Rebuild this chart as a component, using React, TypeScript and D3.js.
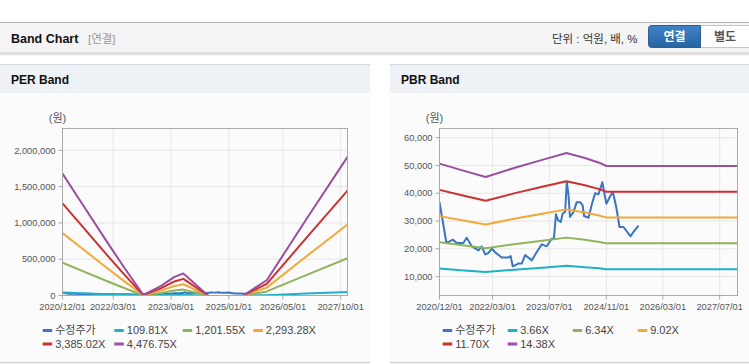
import * as d3 from "d3";

// 수정주가 (shared by both charts)
const PRICE_DATES = [
  "2020-12-01", "2021-01-28", "2021-02-15", "2021-03-24", "2021-04-28", "2021-06-24", "2021-07-22",
  "2021-09-04", "2021-11-01", "2021-11-28", "2021-12-28", "2022-01-25", "2022-02-24", "2022-03-21",
  "2022-05-18", "2022-07-13", "2022-08-03", "2022-08-21", "2022-10-09", "2022-11-06", "2022-12-06",
  "2023-02-01", "2023-03-15", "2023-04-27", "2023-06-09", "2023-07-21", "2023-08-09", "2023-08-27",
  "2023-09-15", "2023-10-07", "2023-10-24", "2023-11-13", "2023-11-28", "2023-12-12", "2023-12-25",
  "2024-01-24", "2024-02-21", "2024-03-21", "2024-04-12", "2024-04-24", "2024-06-01", "2024-07-01",
  "2024-07-28", "2024-08-25", "2024-09-15", "2024-09-28", "2024-10-13", "2024-11-01", "2024-12-04",
  "2024-12-27", "2025-01-25", "2025-02-22", "2025-03-28", "2025-05-28", "2025-06-21", "2025-08-04",
];
const PRICE = [
  36800, 22450, 22450, 23300, 22100, 22100, 24000,
  20900, 19450, 20900, 18000, 18500, 20050, 18850,
  16850, 16850, 17400, 13700, 14700, 14700, 17750,
  15850, 18850, 21600, 20900, 23650, 23650, 32400,
  30250, 29700, 32750, 33250, 44000, 39600, 31450,
  33200, 36800, 36800, 35650, 31800, 31200, 36250,
  40050, 39600, 42250, 44000, 40450, 36250, 38900,
  40450, 35050, 27850, 27850, 24500, 26050, 28350,
];

// PER band
const PER_DATES = [
  "2020-12-01", "2021-06-01", "2022-01-01", "2022-06-01", "2022-11-25", "2023-05-01", "2023-09-01",
  "2023-11-20", "2024-06-28", "2025-01-01", "2025-05-10", "2025-12-07", "2026-12-01", "2027-12-01",
];
const PER_LABELS = ["109.81X", "1,201.55X", "2,293.28X", "3,385.02X", "4,476.75X"];
const PER_1 = [41000, 31000, 18000, 10000, 0, 3000, 6000, 7000, 0, null, 0, 5000, 26000, 47000];
const PER_2 = [451000, 335000, 200000, 107000, 2000, 35000, 69000, 81000, 0, null, 0, 56000, 285000, 513000];
const PER_3 = [860000, 640000, 382000, 205000, 4000, 67000, 131000, 155000, 0, null, 0, 108000, 543000, 978000];
const PER_4 = [1269000, 945000, 563000, 302000, 6000, 98000, 194000, 229000, 0, null, 0, 159000, 801000, 1444000];
const PER_5 = [1679000, 1250000, 745000, 400000, 8000, 130000, 256000, 303000, 0, null, 0, 210000, 1060000, 1910000];
const PER_Y_TICKS = [0, 500000, 1000000, 1500000, 2000000];
const PER_X_TICKS = ["2020-12-01", "2022-03-01", "2023-08-01", "2025-01-01", "2026-05-01", "2027-10-01"];

// PBR band
const PBR_DATES = [
  "2020-12-01", "2021-06-01", "2022-01-01", "2022-09-01", "2023-05-01",
  "2023-11-25", "2024-05-01", "2024-09-01", "2024-11-01", "2027-12-01",
];
const PBR_LABELS = ["3.66X", "6.34X", "9.02X", "11.70X", "14.38X"];
const PBR_1 = [12890, 12320, 11670, 12500, 13230, 13870, 13410, 12980, 12670, 12670];
const PBR_2 = [22330, 21340, 20210, 21650, 22930, 24030, 23240, 22490, 21960, 21960];
const PBR_3 = [31770, 30360, 28760, 30800, 32620, 34190, 33060, 31990, 31240, 31240];
const PBR_4 = [41210, 39380, 37300, 39950, 42310, 44340, 42880, 41490, 40520, 40520];
const PBR_5 = [50650, 48400, 45850, 49100, 52000, 54500, 52700, 51000, 49800, 49800];
const PBR_Y_TICKS = [10000, 20000, 30000, 40000, 50000, 60000];
const PBR_X_TICKS = ["2020-12-01", "2022-03-01", "2023-07-01", "2024-11-01", "2026-03-01", "2027-07-01"];

const COLORS = ["#3a74c2", "#1fb1c6", "#8db55a", "#f3a83a", "#cc3030", "#9a4f9f"];
const FONT = '"Liberation Sans", "Noto Sans CJK KR", Arial, sans-serif';
const parse = d3.timeParse("%Y-%m-%d");
const fmtDate = d3.timeFormat("%Y/%m/%d");
const fmtNum = d3.format(",");

type Series = { name: string; color: string; dates: string[]; values: (number | null)[] };

type PanelProps = {
  id: string;
  left: number;
  right: number;
  title: string;
  series: Series[];
  yDomain: [number, number];
  yTicks: number[];
  xTicks: string[];
  legendX: number[];
  plot: { x0: number; x1: number };
};

function BandPanel({ id, left, right, title, series, yDomain, yTicks, xTicks, legendX, plot }: PanelProps) {
  const top = 128.5;
  const bottom = 295.5;
  const x = d3
    .scaleTime()
    .domain([parse("2020-12-01")!, parse("2027-12-01")!])
    .range([plot.x0, plot.x1]);
  const y = d3.scaleLinear().domain(yDomain).range([bottom, top]);

  const line = d3
    .line<[Date, number | null]>()
    .defined((d) => d[1] != null)
    .x((d) => x(d[0]))
    .y((d) => y(d[1] as number));

  return (
    <g>
      <rect x={left} y={64} width={right - left} height={298} fill="#fbfbfb" />
      <rect x={left} y={64} width={right - left} height={29} fill="#eef1f6" />
      <line x1={left} x2={right} y1={64.5} y2={64.5} stroke="#d4d7db" />
      <line x1={left} x2={right} y1={362.5} y2={362.5} stroke="#d2d2d2" strokeWidth={1.5} />
      <text x={left + 11} y={84} fontFamily={FONT} fontSize={12} fontWeight="bold" fill="#111">
        {title}
      </text>

      <text x={plot.x0 - 5} y={122} fontFamily={FONT} fontSize={11} fill="#555" textAnchor="middle">
        (원)
      </text>

      {/* grid */}
      {yTicks.map((t) => (
        <line key={"gy" + t} x1={plot.x0} x2={plot.x1} y1={y(t)} y2={y(t)} stroke="#e6e6e6" />
      ))}
      {xTicks.slice(1).map((t) => (
        <line key={"gx" + t} x1={x(parse(t)!)} x2={x(parse(t)!)} y1={top} y2={bottom} stroke="#e6e6e6" />
      ))}

      <clipPath id={id}>
        <rect x={plot.x0} y={top} width={plot.x1 - plot.x0} height={bottom - top} />
      </clipPath>
      <g clipPath={`url(#${id})`}>
        {series.map((s) => (
          <path
            key={s.name}
            d={line(s.dates.map((d, i) => [parse(d)!, s.values[i]] as [Date, number | null])) ?? ""}
            fill="none"
            stroke={s.color}
            strokeWidth={2}
            strokeLinejoin="round"
          />
        ))}
      </g>

      <rect x={plot.x0} y={top} width={plot.x1 - plot.x0} height={bottom - top} fill="none" stroke="#aaa" />

      {/* y axis */}
      {yTicks.map((t) => (
        <g key={"ty" + t}>
          <line x1={plot.x0 - 4} x2={plot.x0} y1={y(t)} y2={y(t)} stroke="#aaa" />
          <text
            x={plot.x0 - 7}
            y={y(t)}
            dy="0.35em"
            textAnchor="end"
            fontFamily={FONT}
            fontSize={9.3}
            fill="#555"
          >
            {fmtNum(t)}
          </text>
        </g>
      ))}

      {/* x axis */}
      {xTicks.map((t) => {
        const xx = x(parse(t)!);
        return (
          <g key={"tx" + t}>
            <line x1={xx} x2={xx} y1={bottom} y2={bottom + 4} stroke="#aaa" />
            <text x={xx} y={310} textAnchor="middle" fontFamily={FONT} fontSize={9.3} fill="#555">
              {fmtDate(parse(t)!)}
            </text>
          </g>
        );
      })}

      {/* legend */}
      {series.map((s, i) => {
        const lx = legendX[i % 4];
        const ly = i < 4 ? 330.5 : 344;
        return (
          <g key={"lg" + s.name}>
            <line x1={lx} x2={lx + 9.5} y1={ly} y2={ly} stroke={s.color} strokeWidth={3} />
            <text x={lx + 12.5} y={ly} dy="0.36em" fontFamily={FONT} fontSize={11} fill="#444">
              {s.name}
            </text>
          </g>
        );
      })}
    </g>
  );
}

function buildSeries(labels: string[], bands: (number | null)[][], dates: string[]): Series[] {
  const out: Series[] = [{ name: "수정주가", color: COLORS[0], dates: PRICE_DATES, values: PRICE }];
  labels.forEach((l, i) => out.push({ name: l, color: COLORS[i + 1], dates, values: bands[i] }));
  return out;
}

export default function App() {
  const perSeries = buildSeries(PER_LABELS, [PER_1, PER_2, PER_3, PER_4, PER_5], PER_DATES);
  const pbrSeries = buildSeries(PBR_LABELS, [PBR_1, PBR_2, PBR_3, PBR_4, PBR_5], PBR_DATES);

  return (
    <svg
      width={749}
      height={364}
      style={{ position: "absolute", left: 0, top: 0, background: "#fff" }}
    >
      <defs>
        <linearGradient id="hdrShadow" x1="0" y1="0" x2="0" y2="1">
          <stop offset="0" stopColor="#000" stopOpacity={0.18} />
          <stop offset="1" stopColor="#000" stopOpacity={0} />
        </linearGradient>
        <linearGradient id="btnBlue" x1="0" y1="0" x2="0" y2="1">
          <stop offset="0" stopColor="#3f83c6" />
          <stop offset="1" stopColor="#2763a3" />
        </linearGradient>
      </defs>

      {/* header */}
      <rect x={0} y={22} width={749} height={31} fill="#f4f4f4" />
      <line x1={0} x2={749} y1={22.5} y2={22.5} stroke="#b8b8b8" />
      <rect x={0} y={52.5} width={749} height={4} fill="url(#hdrShadow)" />
      <text x={11} y={43} fontFamily={FONT} fontSize={12.5} fontWeight="bold" fill="#111">
        Band Chart
      </text>
      <text x={88} y={43} fontFamily={FONT} fontSize={11.5} fill="#999">
        [연결]
      </text>
      <text x={552} y={43} fontFamily={FONT} fontSize={11.5} fill="#333">
        단위 : 억원, 배, %
      </text>
      <rect x={700.5} y={25.5} width={52} height={22} fill="#fff" stroke="#c6c6c6" />
      <text x={725} y={41} textAnchor="middle" fontFamily={FONT} fontSize={12} fontWeight="bold" fill="#555">
        별도
      </text>
      <path
        d="M700.5,25.5 H651.5 Q648.5,25.5 648.5,28.5 V44.5 Q648.5,47.5 651.5,47.5 H700.5 Z"
        fill="url(#btnBlue)"
        stroke="#2a5d95"
      />
      <text x={674.5} y={41} textAnchor="middle" fontFamily={FONT} fontSize={12} fontWeight="bold" fill="#fff">
        연결
      </text>

      <BandPanel
        id="clipPer"
        left={0}
        right={370}
        title="PER Band"
        series={perSeries}
        yDomain={[0, 2300000]}
        yTicks={PER_Y_TICKS}
        xTicks={PER_X_TICKS}
        legendX={[42.7, 114.3, 182.7, 253.3]}
        plot={{ x0: 62.5, x1: 347.5 }}
      />
      <BandPanel
        id="clipPbr"
        left={390}
        right={749}
        title="PBR Band"
        series={pbrSeries}
        yDomain={[3200, 63300]}
        yTicks={PBR_Y_TICKS}
        xTicks={PBR_X_TICKS}
        legendX={[442.7, 507.7, 572.7, 637.7]}
        plot={{ x0: 439.5, x1: 737.5 }}
      />
    </svg>
  );
}
